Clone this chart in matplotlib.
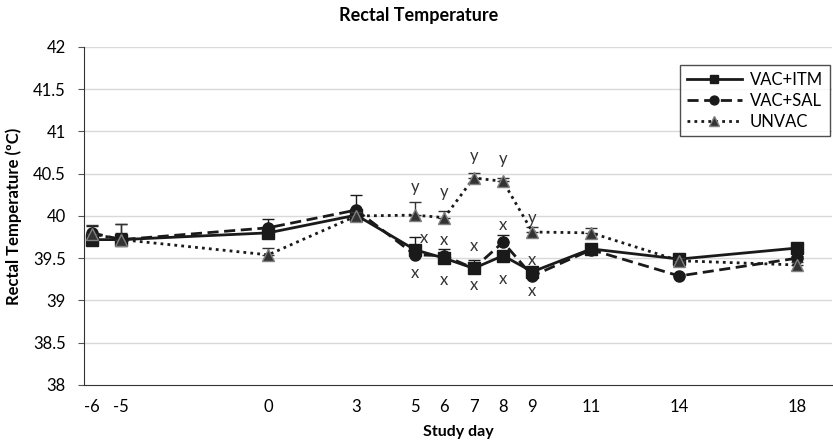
import matplotlib.pyplot as plt
import numpy as np

plt.rcParams['font.family'] = ['Lato', 'DejaVu Sans']

days = [-6, -5, 0, 3, 5, 6, 7, 8, 9, 11, 14, 18]

vac_itm = [39.72, 39.72, 39.80, 40.01, 39.60, 39.50, 39.38, 39.53, 39.34, 39.61, 39.49, 39.62]
vac_itm_err = [0.05, 0.08, 0.05, 0.05, 0.15, 0.05, 0.10, 0.04, 0.04, 0.03, 0.03, 0.03]

vac_sal = [39.80, 39.72, 39.86, 40.07, 39.54, 39.53, 39.38, 39.69, 39.29, 39.60, 39.29, 39.50]
vac_sal_err = [0.08, 0.18, 0.10, 0.18, 0.05, 0.08, 0.05, 0.08, 0.05, 0.03, 0.02, 0.03]

unvac = [39.79, 39.72, 39.54, 40.00, 40.01, 39.98, 40.45, 40.41, 39.81, 39.80, 39.47, 39.42]
unvac_err = [0.10, 0.18, 0.08, 0.05, 0.15, 0.08, 0.06, 0.04, 0.06, 0.06, 0.03, 0.03]

# significance letters: (day, value, letter)
letters_day = [5, 6, 7, 8, 9, 5, 6, 7, 8, 9, 5, 6, 7, 8, 9]
letters_val = [40.34, 40.28, 40.71, 40.68, 39.97,
               39.74, 39.72, 39.65, 39.89, 39.48,
               39.32, 39.24, 39.18, 39.25, 39.11]
letters_txt = ['y', 'y', 'y', 'y', 'y',
               'x', 'x', 'x', 'x', 'x',
               'x', 'x', 'x', 'x', 'x']
letters_dx = [0, 0, 0, 0, 0, 0.3, 0, 0, 0, 0, 0, 0, 0, 0, 0]

fig = plt.figure(figsize=(8.33, 4.43), dpi=100)
ax = fig.add_axes([0.1008, 0.131, 0.898, 0.763])

for y in np.arange(38.5, 42.01, 0.5):
    ax.axhline(y, color='#d9d9d9', linewidth=1, zorder=0)

zero = np.zeros(len(days))
c1 = ax.errorbar(days, vac_itm, yerr=[zero, vac_itm_err], color='#1a1a1a',
                 linestyle='-', linewidth=2, marker='s', markersize=8, capsize=4,
                 elinewidth=1, zorder=3)
c2 = ax.errorbar(days, vac_sal, yerr=[zero, vac_sal_err], color='#1a1a1a',
                 linestyle=(0, (4, 2)), linewidth=2, marker='o', markersize=8, capsize=4,
                 elinewidth=1, zorder=4)
c3 = ax.errorbar(days, unvac, yerr=[zero, unvac_err], color='#1a1a1a',
                 linestyle=(0, (1, 1.5)), linewidth=2, marker='^', markersize=9,
                 markerfacecolor='#333333', markeredgecolor='#808080', capsize=4,
                 elinewidth=1, ecolor='#333333', zorder=5)

for d, v, t, dx in zip(letters_day, letters_val, letters_txt, letters_dx):
    ax.text(d + dx, v, t, ha='center', va='center', fontsize=12, color='#333333')

ax.set_xlim(-6.27, 19.2)
ax.set_ylim(38, 42)
ax.set_xticks(days)
ax.set_xticklabels([str(d) for d in days])
ax.set_yticks(np.arange(38, 42.01, 0.5))
ax.set_yticklabels(['38', '38.5', '39', '39.5', '40', '40.5', '41', '41.5', '42'])
ax.tick_params(axis='y', labelsize=12, length=4, color='#555555', pad=9)
ax.tick_params(axis='x', labelsize=12, length=0, pad=10)
ax.spines['top'].set_visible(False)
ax.spines['right'].set_visible(False)
ax.spines['left'].set_color('#333333')
ax.spines['bottom'].set_color('#333333')

ax.set_xlabel('Study day', fontsize=11.5, fontweight='bold', labelpad=7)
ax.set_ylabel('Rectal Temperature (ºC)', fontsize=12, fontweight='bold', labelpad=8)
fig.suptitle('Rectal Temperature', fontsize=13, fontweight='bold', x=0.502, y=0.985)

leg = ax.legend([c1.lines[0], c2.lines[0], c3.lines[0]], ['VAC+ITM', 'VAC+SAL', 'UNVAC'],
                loc='upper right', bbox_to_anchor=(0.997, 0.947), borderaxespad=0,
                fontsize=12, frameon=True, fancybox=False, edgecolor='#222222',
                handlelength=3.3, markerscale=0.8, borderpad=0.4, labelspacing=0.3,
                handletextpad=0.5)
leg.get_frame().set_linewidth(1)

fig.savefig('out.png', dpi=100)
